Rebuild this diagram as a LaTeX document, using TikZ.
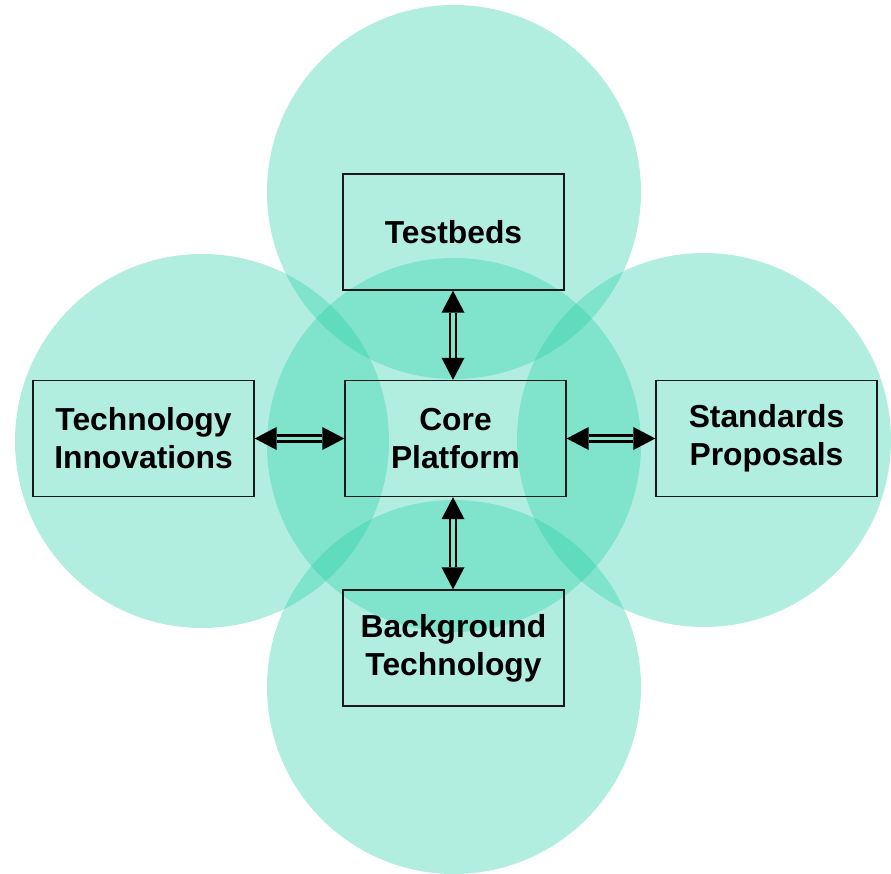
\documentclass[tikz,border=0pt]{standalone}
\usepackage{fontspec}
\setmainfont{Liberation Sans}
\usetikzlibrary{calc}
\definecolor{petal}{RGB}{35,206,166}
\definecolor{edge}{RGB}{25,25,25}
\tikzset{
  petalfill/.style={fill=petal, fill opacity=0.35},
  box/.style={draw=edge, line width=1.4pt, minimum width=221pt, minimum height=116pt,
    inner sep=0pt, align=center, font=\bfseries\fontsize{31.8}{38}\selectfont},
  shaft/.style={draw=black, line width=2.7pt},
  head/.style={fill=black}
}
% double-lined connector with a solid triangular head at each end
\newcommand\twinlink[2]{%
  \coordinate (ha) at ($(#1)!22pt!(#2)$);
  \coordinate (hb) at ($(#2)!22pt!(#1)$);
  \fill[head] (#1) -- ($(ha)!11.5pt!90:(#1)$) -- ($(ha)!11.5pt!-90:(#1)$) -- cycle;
  \fill[head] (#2) -- ($(hb)!11.5pt!90:(#2)$) -- ($(hb)!11.5pt!-90:(#2)$) -- cycle;
  \draw[shaft] ($(ha)!2.9pt!90:(#1)$) -- ($(hb)!2.9pt!-90:(#2)$);
  \draw[shaft] ($(ha)!2.9pt!-90:(#1)$) -- ($(hb)!2.9pt!90:(#2)$);
}
\begin{document}
\begin{tikzpicture}[x=1pt, y=-1pt]
\useasboundingbox (0,0) rectangle (891,874);
% overlapping circles
\fill[petalfill] (454,192) circle (187pt);
\fill[petalfill] (202,441) circle (187pt);
\fill[petalfill] (704,440) circle (187pt);
\fill[petalfill] (454,687) circle (187pt);
\fill[petalfill] (454,445) circle (187pt);
% boxes
\node[box] (tb) at (453.5,232) {Testbeds};
\node[box] (ti) at (143.5,438.5) {Technology\\Innovations};
\node[box] (cp) at (455.5,438.5) {Core\\Platform};
\node[box] (sp) at (766.5,438.5) {Standards\\Proposals};
\node[box] (bt) at (453.5,648) {Background\\Technology};
% connectors
\twinlink{tb.south -| 453,0}{cp.north -| 453,0}
\twinlink{ti.east}{cp.west}
\twinlink{cp.east}{sp.west}
\twinlink{cp.south -| 453,0}{bt.north -| 453,0}
\end{tikzpicture}
\end{document}
